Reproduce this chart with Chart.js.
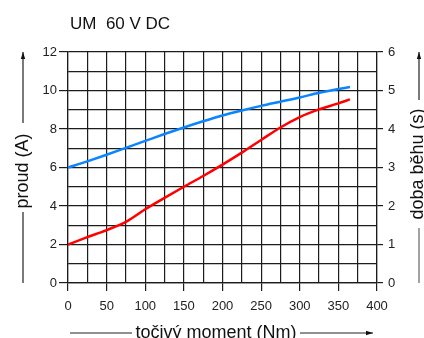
<!DOCTYPE html>
<html>
<head>
<meta charset="utf-8">
<script src="https://cdn.jsdelivr.net/npm/chart.js@4.4.1/dist/chart.umd.min.js"></script>
<style>
  body { margin: 0; background: #fff; }
  #wrap { width: 424px; height: 338px; }
</style>
</head>
<body>
<div id="wrap"><canvas id="graf" width="424" height="338"></canvas></div>
<script>
// tocivy moment (Nm)
const moment = [0, 25, 50, 75, 100, 125, 150, 175, 200, 225, 250, 275, 300, 325, 350, 365];
// proud (A) - cervena
const proud = [2.0, 2.38, 2.75, 3.18, 3.83, 4.42, 5.0, 5.56, 6.15, 6.77, 7.43, 8.08, 8.62, 9.02, 9.33, 9.54];
// doba behu (s) - modra
const dobaBehu = [3.0, 3.16, 3.33, 3.51, 3.69, 3.87, 4.04, 4.2, 4.35, 4.48, 4.6, 4.71, 4.82, 4.94, 5.04, 5.09];

const xTicks = [0, 50, 100, 150, 200, 250, 300, 350, 400];
const proudTicks = [0, 2, 4, 6, 8, 10, 12];
const dobaTicks = [0, 1, 2, 3, 4, 5, 6];

const FONT = '"Liberation Sans", Arial, sans-serif';
const GRID = '#1c1c1c';

function body(mom, hodnoty) {
    return mom.map((m, i) => ({ x: m, y: hodnoty[i] }));
}

function sipka(ctx, x1, y1, x2, y2) {
    ctx.beginPath();
    ctx.moveTo(x1, y1);
    ctx.lineTo(x2, y2);
    ctx.stroke();
    const a = Math.atan2(y2 - y1, x2 - x1);
    ctx.beginPath();
    ctx.moveTo(x2, y2);
    ctx.lineTo(x2 - 7 * Math.cos(a) + 2.2 * Math.sin(a), y2 - 7 * Math.sin(a) - 2.2 * Math.cos(a));
    ctx.lineTo(x2 - 7 * Math.cos(a) - 2.2 * Math.sin(a), y2 - 7 * Math.sin(a) + 2.2 * Math.cos(a));
    ctx.closePath();
    ctx.fill();
}

function cara(ctx, x1, y1, x2, y2) {
    ctx.beginPath();
    ctx.moveTo(x1, y1);
    ctx.lineTo(x2, y2);
    ctx.stroke();
}

// popisky os se sipkami a nadpis
const popisky = {
    id: 'popisky',
    afterDraw(chart) {
        const ctx = chart.ctx;
        const ca = chart.chartArea;
        ctx.save();
        ctx.fillStyle = '#111';
        ctx.strokeStyle = '#222';
        ctx.lineWidth = 1.2;

        ctx.font = '17px ' + FONT;
        ctx.textAlign = 'left';
        ctx.textBaseline = 'alphabetic';
        ctx.fillText('UM  60 V DC', 70, 29);

        ctx.font = '18px ' + FONT;
        ctx.textAlign = 'center';

        // leva osa
        ctx.save();
        ctx.translate(28, 171);
        ctx.rotate(-Math.PI / 2);
        ctx.fillText('proud (A)', 0, 0);
        ctx.restore();
        sipka(ctx, 23, 123, 23, ca.top);
        cara(ctx, 23, 212, 23, ca.bottom);

        // prava osa
        ctx.save();
        ctx.translate(423, 164);
        ctx.rotate(-Math.PI / 2);
        ctx.fillText('doba běhu (s)', 0, 0);
        ctx.restore();
        sipka(ctx, 419, 100, 419, ca.top);
        ctx.strokeStyle = '#666';
        cara(ctx, 419, 228, 419, ca.bottom);
        ctx.strokeStyle = '#222';

        // spodni osa
        ctx.fillText('točivý moment (Nm)', 216, 337.5);
        cara(ctx, 70, 333, 132, 333);
        sipka(ctx, 300, 333, 373, 333);
        ctx.restore();
    }
};

const ctxGraf = document.getElementById('graf').getContext('2d');
const graf = new Chart(ctxGraf, {
    type: 'line',
    data: {
        datasets: [{
            label: 'proud (A)',
            data: body(moment, proud),
            yAxisID: 'y',
            borderColor: '#ff0000',
            borderWidth: 2.5,
            pointRadius: 0,
            cubicInterpolationMode: 'monotone'
        }, {
            label: 'doba běhu (s)',
            data: body(moment, dobaBehu),
            yAxisID: 'y2',
            borderColor: '#0a84ff',
            borderWidth: 2.5,
            pointRadius: 0,
            cubicInterpolationMode: 'monotone'
        }]
    },
    options: {
        responsive: false,
        animation: false,
        layout: { padding: { top: 52, left: 0, right: 0, bottom: 0 } },
        plugins: {
            legend: { display: false },
            tooltip: { enabled: false }
        },
        scales: {
            x: {
                type: 'linear',
                min: 0,
                max: 400,
                afterFit: s => { s.height = 55; },
                afterBuildTicks: s => { s.ticks = Array.from({ length: 17 }, (_, i) => ({ value: i * 25 })); },
                ticks: {
                    padding: 8,
                    maxRotation: 0,
                    autoSkip: false,
                    color: '#222',
                    font: { family: FONT, size: 13 },
                    callback: v => xTicks.includes(v) ? v : ''
                },
                grid: {
                    color: GRID,
                    lineWidth: 1.2,
                    tickLength: 8,
                    tickColor: c => xTicks.includes(c.tick.value) ? GRID : 'transparent'
                },
                border: { color: GRID, width: 1.2 }
            },
            y: {
                position: 'left',
                min: 0,
                max: 12,
                afterFit: s => { s.width = 68; },
                ticks: {
                    stepSize: 1,
                    padding: 2,
                    autoSkip: false,
                    color: '#222',
                    font: { family: FONT, size: 13 },
                    callback: v => proudTicks.includes(v) ? v : ''
                },
                grid: {
                    color: GRID,
                    lineWidth: 1.2,
                    tickLength: 9,
                    tickColor: c => proudTicks.includes(c.tick.value) ? GRID : 'transparent'
                },
                border: { color: GRID, width: 1.2 }
            },
            y2: {
                position: 'right',
                min: 0,
                max: 6,
                afterFit: s => { s.width = 47; },
                ticks: {
                    stepSize: 0.5,
                    padding: 5,
                    autoSkip: false,
                    color: '#222',
                    font: { family: FONT, size: 13 },
                    callback: v => dobaTicks.includes(v) ? v : ''
                },
                grid: {
                    drawOnChartArea: false,
                    color: GRID,
                    lineWidth: 1.2,
                    tickLength: 6,
                    tickColor: c => dobaTicks.includes(c.tick.value) ? GRID : 'transparent'
                },
                border: { color: GRID, width: 1.2 }
            }
        }
    },
    plugins: [popisky]
});
</script>
</body>
</html>
